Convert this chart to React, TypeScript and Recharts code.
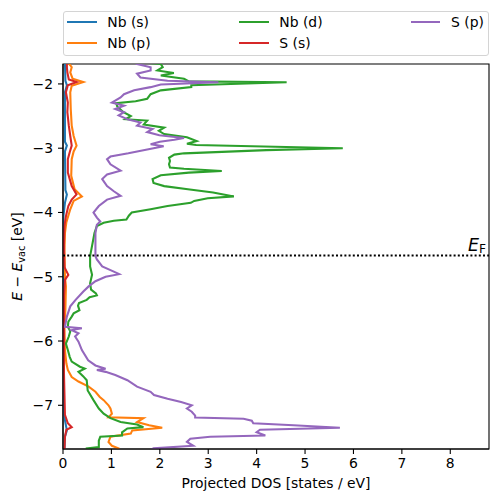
import React from 'react';
import { ComposedChart, Line, XAxis, YAxis, ReferenceLine, ReferenceArea } from 'recharts';

// ---- data (energy in eV, projected DOS in states/eV) ----
const nbSEnergy = [-1.66, -1.95, -2.02, -2.13, -2.9, -2.96, -3.05, -3.65, -3.72, -3.85, -4.05, -4.3, -7.1, -7.23, -7.39, -7.49, -7.7];
const nbSDos = [0.04, 0.05, 0.08, 0.04, 0.04, 0.08, 0.04, 0.05, 0.08, 0.04, 0.01, 0.005, 0.01, 0.04, 0.08, 0.04, 0.03];

const nbPEnergy = [-1.66, -1.69, -1.74, -1.82, -1.92, -1.97, -2.03, -2.13, -2.39, -2.65, -2.81, -2.96, -3.05, -3.17, -3.43, -3.64, -3.75, -3.82, -3.95, -4.15, -4.32, -4.6, -5.0, -5.15, -5.5, -5.78, -6.14, -6.35, -6.45, -6.56, -6.63, -6.71, -6.79, -6.87, -6.92, -7.0, -7.05, -7.13, -7.185, -7.2, -7.26, -7.31, -7.35, -7.39, -7.44, -7.49, -7.57, -7.63, -7.67, -7.7];
const nbPDos = [0.1, 0.13, 0.18, 0.15, 0.2, 0.42, 0.18, 0.15, 0.16, 0.18, 0.22, 0.28, 0.22, 0.18, 0.17, 0.24, 0.39, 0.22, 0.15, 0.07, 0.04, 0.03, 0.04, 0.06, 0.05, 0.03, 0.04, 0.07, 0.1, 0.18, 0.32, 0.53, 0.67, 0.76, 0.84, 0.94, 0.98, 1.01, 0.94, 1.66, 1.53, 1.78, 2.05, 1.43, 1.4, 0.98, 0.94, 1.01, 1.15, 1.15];

const nbDEnergy = [-1.66, -1.69, -1.74, -1.79, -1.83, -1.87, -1.92, -1.96, -1.975, -2.02, -2.05, -2.1, -2.16, -2.23, -2.27, -2.3, -2.35, -2.44, -2.5, -2.55, -2.57, -2.63, -2.68, -2.73, -2.78, -2.83, -2.89, -2.93, -2.95, -3.0, -3.03, -3.08, -3.1, -3.15, -3.2, -3.25, -3.3, -3.32, -3.355, -3.38, -3.42, -3.48, -3.54, -3.59, -3.64, -3.69, -3.75, -3.78, -3.82, -3.85, -3.9, -3.95, -4.0, -4.05, -4.11, -4.13, -4.16, -4.21, -4.32, -4.52, -4.68, -4.84, -4.97, -5.1, -5.2, -5.26, -5.29, -5.32, -5.36, -5.41, -5.45, -5.52, -5.57, -5.62, -5.7, -5.78, -5.85, -5.93, -6.04, -6.14, -6.25, -6.32, -6.4, -6.43, -6.48, -6.55, -6.61, -6.77, -6.92, -7.05, -7.13, -7.2, -7.26, -7.3, -7.34, -7.36, -7.42, -7.47, -7.49, -7.55, -7.65, -7.67, -7.7];
const nbDDos = [1.55, 2.02, 2.06, 1.95, 2.29, 2.02, 2.5, 2.6, 4.62, 2.65, 2.65, 2.02, 1.81, 1.74, 1.5, 1.1, 1.12, 1.25, 1.4, 1.29, 1.74, 1.67, 2.09, 1.98, 2.09, 2.56, 2.76, 2.56, 2.75, 5.78, 4.2, 2.5, 2.3, 2.19, 2.21, 2.19, 2.21, 2.5, 3.28, 2.6, 2.02, 1.85, 1.87, 2.09, 2.58, 3.1, 3.53, 2.99, 2.71, 2.64, 2.16, 1.81, 1.42, 1.36, 1.31, 1.05, 0.84, 0.7, 0.65, 0.6, 0.56, 0.56, 0.6, 0.56, 0.58, 0.68, 0.7, 0.55, 0.49, 0.33, 0.31, 0.34, 0.22, 0.18, 0.11, 0.1, 0.15, 0.12, 0.06, 0.1, 0.14, 0.18, 0.35, 0.45, 0.32, 0.42, 0.49, 0.51, 0.63, 0.74, 0.84, 0.98, 1.19, 1.53, 1.66, 1.33, 1.22, 1.22, 0.77, 0.74, 0.74, 0.49, 0.49];

const sSEnergy = [-1.66, -1.74, -1.82, -1.93, -1.97, -2.02, -2.13, -2.29, -2.44, -2.65, -2.81, -2.96, -3.06, -3.17, -3.38, -3.59, -3.72, -3.8, -3.9, -4.06, -4.21, -4.5, -4.85, -4.97, -5.05, -5.3, -6.5, -7.15, -7.28, -7.34, -7.38, -7.49, -7.7];
const sSDos = [0.08, 0.08, 0.09, 0.12, 0.28, 0.1, 0.06, 0.1, 0.09, 0.12, 0.15, 0.18, 0.14, 0.1, 0.1, 0.18, 0.28, 0.18, 0.11, 0.06, 0.03, 0.02, 0.03, 0.11, 0.04, 0.02, 0.02, 0.04, 0.1, 0.18, 0.07, 0.04, 0.03];

const sPEnergy = [-1.66, -1.69, -1.74, -1.79, -1.84, -1.9, -1.95, -1.975, -2.01, -2.05, -2.1, -2.16, -2.21, -2.29, -2.34, -2.39, -2.44, -2.49, -2.55, -2.6, -2.65, -2.7, -2.75, -2.8, -2.84, -2.87, -2.9, -2.94, -2.97, -3.02, -3.08, -3.13, -3.17, -3.25, -3.35, -3.41, -3.48, -3.59, -3.67, -3.74, -3.8, -3.9, -4.0, -4.08, -4.14, -4.19, -4.32, -4.68, -4.73, -4.84, -4.92, -4.96, -5.0, -5.07, -5.15, -5.23, -5.36, -5.46, -5.62, -5.78, -5.8, -5.83, -5.88, -5.93, -6.01, -6.14, -6.3, -6.38, -6.43, -6.45, -6.48, -6.53, -6.61, -6.71, -6.79, -6.84, -6.9, -6.95, -7.0, -7.05, -7.1, -7.16, -7.19, -7.21, -7.24, -7.28, -7.31, -7.35, -7.38, -7.42, -7.47, -7.49, -7.52, -7.57, -7.63, -7.67, -7.7];
const sPDos = [1.45, 1.53, 1.81, 1.81, 1.53, 1.6, 2.16, 3.21, 2.02, 1.81, 1.47, 1.26, 1.19, 1.01, 1.26, 1.08, 1.26, 1.15, 1.33, 1.6, 1.53, 1.85, 1.74, 1.99, 2.5, 2.3, 2.0, 1.81, 2.08, 1.74, 1.35, 0.98, 0.91, 0.98, 1.19, 0.91, 0.81, 0.91, 1.05, 1.19, 0.91, 0.74, 0.63, 0.7, 0.77, 0.7, 0.67, 0.67, 0.7, 0.81, 1.05, 1.16, 0.88, 0.67, 0.53, 0.42, 0.26, 0.15, 0.08, 0.04, 0.39, 0.18, 0.32, 0.25, 0.32, 0.39, 0.52, 0.67, 0.88, 0.7, 0.88, 1.08, 1.33, 1.53, 1.81, 1.88, 2.16, 2.44, 2.66, 2.56, 2.66, 2.73, 2.73, 3.73, 3.9, 3.93, 4.76, 5.72, 4.07, 4.0, 4.18, 3.04, 2.63, 2.56, 2.69, 1.87, 1.8];

const seriesNames = ['Nb (s)', 'Nb (p)', 'Nb (d)', 'S (s)', 'S (p)'];
const seriesColors = ['#1f77b4', '#ff7f0e', '#2ca02c', '#d62728', '#9467bd'];
const seriesEnergies = [nbSEnergy, nbPEnergy, nbDEnergy, sSEnergy, sPEnergy];
const seriesDos = [nbSDos, nbPDos, nbDDos, sSDos, sPDos];

const xTicks = [0, 1, 2, 3, 4, 5, 6, 7, 8];
const yTicks = [-7, -6, -5, -4, -3, -2];
const xDomain: [number, number] = [0, 8.8];
const yDomain: [number, number] = [-7.68, -1.69];
const fermiLevel = -4.67;

const FONT = "'DejaVu Sans', sans-serif";
const FS = 13.9;

const toRows = (energy: number[], dos: number[]) => energy.map((e, i) => ({ E: e, dos: dos[i] }));
const fmt = (v: number) => (v < 0 ? '\u2212' + Math.abs(v) : String(v));

const FermiLabel = (props: any) => {
  const vb = props.viewBox || {};
  return (
    <text x={(vb.x || 0) + (vb.width || 0) - 3} y={(vb.y || 0) - 5} textAnchor="end" fontFamily={FONT} fontSize={17.4} fill="#000">
      <tspan fontStyle="italic">E</tspan>
      <tspan fontSize={12.2} dy={2.3}>F</tspan>
    </text>
  );
};

const XLabel = (props: any) => {
  const vb = props.viewBox || {};
  return (
    <text x={(vb.x || 0) + (vb.width || 0) / 2} y={488} textAnchor="middle" fontFamily={FONT} fontSize={FS} fill="#000">
      Projected DOS [states / eV]
    </text>
  );
};

const YLabel = (props: any) => {
  const vb = props.viewBox || {};
  const cy = (vb.y || 0) + (vb.height || 0) / 2;
  return (
    <text transform={`translate(22, ${cy}) rotate(-90)`} textAnchor="middle" fontFamily={FONT} fontSize={FS} fill="#000">
      <tspan fontStyle="italic">E</tspan>
      <tspan> {'\u2212'} </tspan>
      <tspan fontStyle="italic">E</tspan>
      <tspan fontSize={9.7} dy={2.6}>vac</tspan>
      <tspan dy={-2.6}> [eV]</tspan>
    </text>
  );
};

const legendLayout = [
  { idx: 0, x: 67.3, y: 22 },
  { idx: 1, x: 67.3, y: 42.7 },
  { idx: 2, x: 239.3, y: 22 },
  { idx: 3, x: 239.3, y: 42.7 },
  { idx: 4, x: 411, y: 22 },
];

export default function App() {
  return (
    <div style={{ position: 'absolute', left: 0, top: 0, width: 498, height: 502, background: '#fff' }}>
      <ComposedChart
        width={498}
        height={502}
        layout="vertical"
        margin={{ top: 64, right: 9, bottom: 23, left: 0 }}
      >
        <XAxis
          type="number"
          dataKey="dos"
          domain={xDomain}
          ticks={xTicks}
          allowDataOverflow
          height={30}
          tickSize={5}
          tickMargin={4}
          tickFormatter={fmt}
          tick={{ fill: '#000', fontSize: FS, fontFamily: FONT }}
          axisLine={{ stroke: '#000', strokeWidth: 1.1 }}
          tickLine={{ stroke: '#000', strokeWidth: 1.1 }}
          label={{ content: XLabel }}
        />
        <YAxis
          type="number"
          dataKey="E"
          domain={yDomain}
          ticks={yTicks}
          allowDataOverflow
          reversed
          width={63}
          tickSize={5}
          tickMargin={5}
          tickFormatter={fmt}
          tick={{ fill: '#000', fontSize: FS, fontFamily: FONT }}
          axisLine={{ stroke: '#000', strokeWidth: 1.1 }}
          tickLine={{ stroke: '#000', strokeWidth: 1.1 }}
          label={{ content: YLabel }}
        />
        {seriesNames.map((name, i) => (
          <Line
            key={name}
            name={name}
            data={toRows(seriesEnergies[i], seriesDos[i])}
            dataKey="dos"
            type="linear"
            stroke={seriesColors[i]}
            strokeWidth={2.08}
            dot={false}
            activeDot={false}
            isAnimationActive={false}
          />
        ))}
        <ReferenceLine
          y={fermiLevel}
          stroke="#000"
          strokeWidth={2}
          strokeDasharray="2 2.2"
          label={FermiLabel}
        />
        <ReferenceArea
          x1={xDomain[0]}
          x2={xDomain[1]}
          y1={yDomain[0]}
          y2={yDomain[1]}
          fill="none"
          fillOpacity={0}
          stroke="#000"
          strokeWidth={1.1}
          ifOverflow="visible"
        />
      </ComposedChart>
      <div
        style={{
          position: 'absolute',
          left: 63,
          top: 10.5,
          width: 426,
          height: 45.5,
          boxSizing: 'border-box',
          border: '1px solid #d4d4d4',
          borderRadius: 3,
          background: 'rgba(255,255,255,0.8)',
        }}
      />
      {legendLayout.map(({ idx, x, y }) => (
        <div
          key={idx}
          style={{
            position: 'absolute',
            left: x,
            top: y - 9,
            height: 18,
            display: 'flex',
            alignItems: 'center',
            fontFamily: FONT,
            fontSize: FS,
            color: '#000',
            whiteSpace: 'nowrap',
          }}
        >
          <div style={{ width: 29.4, height: 2.08, background: seriesColors[idx], marginRight: 10.6 }} />
          <span style={{ lineHeight: '18px' }}>{seriesNames[idx]}</span>
        </div>
      ))}
    </div>
  );
}
